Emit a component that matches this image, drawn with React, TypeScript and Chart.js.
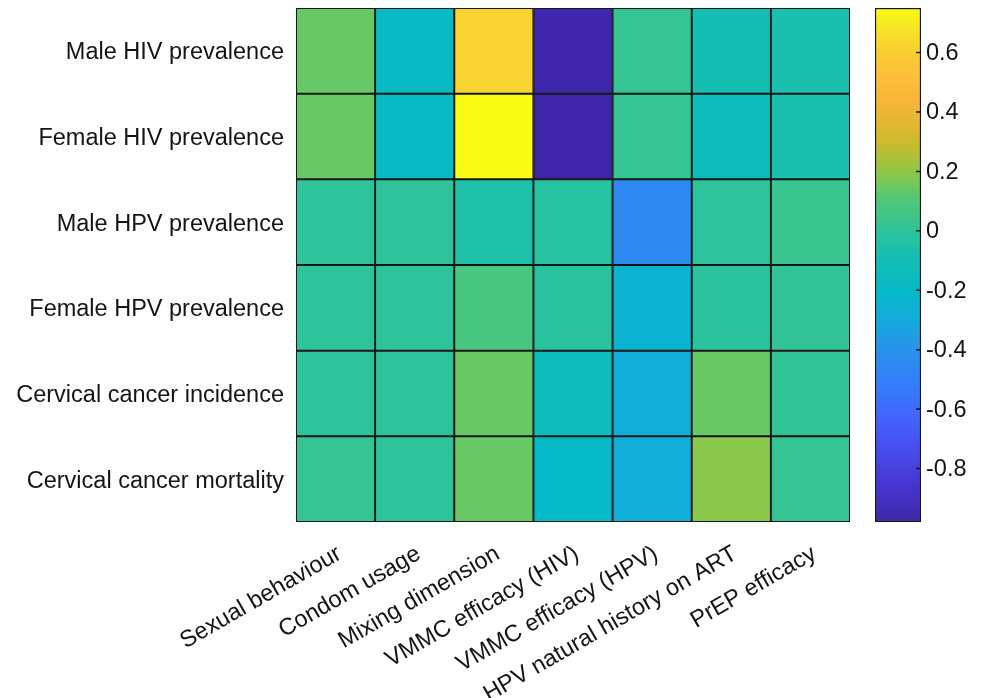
import React, { useEffect, useRef } from 'react';
import { Chart, registerables } from 'chart.js';

Chart.register(...registerables);

// ---- Data ----
const columnLabels = [
  'Sexual behaviour',
  'Condom usage',
  'Mixing dimension',
  'VMMC efficacy (HIV)',
  'VMMC efficacy (HPV)',
  'HPV natural history on ART',
  'PrEP efficacy',
];

const rowLabels = [
  'Male HIV prevalence',
  'Female HIV prevalence',
  'Male HPV prevalence',
  'Female HPV prevalence',
  'Cervical cancer incidence',
  'Cervical cancer mortality',
];

const maleHIV = [0.14, -0.18, 0.62, -0.97, 0.02, -0.09, -0.07];
const femaleHIV = [0.14, -0.18, 0.75, -0.98, 0.02, -0.14, -0.07];
const maleHPV = [0.0, 0.0, -0.06, -0.03, -0.44, 0.0, 0.03];
const femaleHPV = [0.0, 0.0, 0.08, -0.02, -0.25, -0.01, 0.01];
const cervicalIncidence = [0.0, 0.0, 0.14, -0.14, -0.28, 0.14, 0.01];
const cervicalMortality = [0.02, 0.0, 0.14, -0.2, -0.28, 0.19, 0.02];

const rowValues = [maleHIV, femaleHIV, maleHPV, femaleHPV, cervicalIncidence, cervicalMortality];

const colorbarTicks = [-0.8, -0.6, -0.4, -0.2, 0, 0.2, 0.4, 0.6];
const COLOR_MIN = -0.98;
const COLOR_MAX = 0.75;

// parula-like colormap anchors: [t, r, g, b]
const PARULA: [number, number, number, number][] = [
  [0.0, 62, 38, 168],
  [0.076, 70, 55, 210],
  [0.145, 72, 78, 238],
  [0.203, 65, 100, 250],
  [0.273, 50, 128, 250],
  [0.32, 45, 140, 240],
  [0.39, 20, 170, 220],
  [0.448, 5, 185, 200],
  [0.512, 20, 190, 180],
  [0.564, 45, 195, 155],
  [0.628, 80, 200, 120],
  [0.669, 130, 200, 80],
  [0.698, 160, 195, 60],
  [0.74, 205, 186, 42],
  [0.814, 248, 180, 58],
  [0.86, 252, 190, 58],
  [0.913, 250, 205, 50],
  [0.959, 245, 228, 38],
  [1.0, 249, 251, 20],
];

function cmap(v: number): string {
  let t = (v - COLOR_MIN) / (COLOR_MAX - COLOR_MIN);
  t = Math.max(0, Math.min(1, t));
  for (let i = 0; i < PARULA.length - 1; i++) {
    const a = PARULA[i];
    const b = PARULA[i + 1];
    if (t >= a[0] && t <= b[0]) {
      const f = (t - a[0]) / (b[0] - a[0] || 1);
      const r = Math.round(a[1] + (b[1] - a[1]) * f);
      const g = Math.round(a[2] + (b[2] - a[2]) * f);
      const bb = Math.round(a[3] + (b[3] - a[3]) * f);
      return `rgb(${r},${g},${bb})`;
    }
  }
  const l = PARULA[PARULA.length - 1];
  return `rgb(${l[1]},${l[2]},${l[3]})`;
}

function fmt(v: number): string {
  const s = (Math.round(v * 10) / 10).toString();
  return s === '-0' ? '0' : s;
}

export default function App() {
  const mainRef = useRef<HTMLCanvasElement>(null);
  const barRef = useRef<HTMLCanvasElement>(null);

  useEffect(() => {
    const font = { family: '"Liberation Sans", Arial, sans-serif', size: 23.5 };
    const textColor = '#141414';
    const lineColor = '#161616';

    const main = new Chart(mainRef.current as HTMLCanvasElement, {
      type: 'bar',
      data: {
        labels: columnLabels,
        datasets: rowValues.map((vals, i) => ({
          label: rowLabels[i],
          data: vals.map(() => 1),
          backgroundColor: vals.map(cmap),
          borderColor: lineColor,
          borderWidth: 1.3,
          borderSkipped: false,
          barPercentage: 1,
          categoryPercentage: 1,
        })),
      },
      options: {
        responsive: false,
        animation: false,
        layout: { padding: { top: 8, right: 132, left: 0, bottom: 0 } },
        plugins: { legend: { display: false }, tooltip: { enabled: false } },
        scales: {
          x: {
            stacked: true,
            grid: { display: false, drawTicks: false },
            border: { display: false },
            ticks: {
              minRotation: 30,
              maxRotation: 30,
              autoSkip: false,
              font,
              color: textColor,
              padding: 18,
              labelOffset: 4,
            },
            afterFit: (s: any) => {
              s.height = 176;
              s.paddingLeft = 0;
              s.paddingRight = 0;
            },
          },
          y: {
            stacked: true,
            min: 0,
            max: 6,
            reverse: true,
            grid: { display: false, drawTicks: false },
            border: { display: false },
            afterBuildTicks: (s: any) => {
              s.ticks = rowLabels.map((_, i) => ({ value: i + 0.5 }));
            },
            ticks: {
              callback: (v: any) => rowLabels[Math.floor(Number(v))],
              font,
              color: textColor,
              padding: 12,
              labelOffset: 2,
            },
            afterFit: (s: any) => {
              s.width = 296;
              s.paddingTop = 0;
              s.paddingBottom = 0;
            },
          },
        },
      } as any,
    });

    const innerTicks = {
      id: 'innerTicks',
      afterDatasetsDraw(chart: any) {
        const ys = chart.scales.y;
        const right = chart.chartArea.right;
        const ctx = chart.ctx;
        ctx.save();
        ctx.strokeStyle = lineColor;
        ctx.lineWidth = 1.5;
        ctx.beginPath();
        colorbarTicks.forEach((v) => {
          const y = ys.getPixelForValue(v);
          ctx.moveTo(right - 1, y);
          ctx.lineTo(right - 5, y);
        });
        ctx.stroke();
        ctx.restore();
      },
    };

    const cb = new Chart(barRef.current as HTMLCanvasElement, {
      type: 'bar',
      data: {
        labels: [''],
        datasets: [
          {
            data: [[COLOR_MIN, COLOR_MAX]] as any,
            backgroundColor: (c: any) => {
              const chart = c.chart;
              if (!chart.chartArea) return 'transparent';
              const ys = chart.scales.y;
              const g = chart.ctx.createLinearGradient(
                0,
                ys.getPixelForValue(COLOR_MIN),
                0,
                ys.getPixelForValue(COLOR_MAX)
              );
              PARULA.forEach(([t, r, gg, b]) => g.addColorStop(t, `rgb(${r},${gg},${b})`));
              return g;
            },
            borderColor: lineColor,
            borderWidth: 1.5,
            borderSkipped: false,
            barPercentage: 1,
            categoryPercentage: 1,
          },
        ],
      },
      options: {
        responsive: false,
        animation: false,
        layout: { padding: { left: 15, top: 8, bottom: 176, right: 0 } },
        plugins: { legend: { display: false }, tooltip: { enabled: false } },
        scales: {
          x: { display: false },
          y: {
            position: 'right',
            min: COLOR_MIN,
            max: COLOR_MAX,
            grid: { display: false, drawTicks: false },
            border: { display: false },
            afterBuildTicks: (s: any) => {
              s.ticks = colorbarTicks.map((v) => ({ value: v }));
            },
            ticks: {
              callback: (v: any) => fmt(Number(v)),
              font,
              color: textColor,
              padding: 5,
              labelOffset: 1,
            },
            afterFit: (s: any) => {
              s.width = 61;
              s.paddingTop = 0;
              s.paddingBottom = 0;
            },
          },
        },
      } as any,
      plugins: [innerTicks],
    });

    return () => {
      main.destroy();
      cb.destroy();
    };
  }, []);

  return (
    <div style={{ position: 'absolute', left: 0, top: 0, width: 982, height: 698, background: '#fff' }}>
      <canvas
        ref={mainRef}
        width={982}
        height={698}
        style={{ position: 'absolute', left: 0, top: 0, width: 982, height: 698 }}
      />
      <canvas
        ref={barRef}
        width={122}
        height={698}
        style={{ position: 'absolute', left: 860, top: 0, width: 122, height: 698 }}
      />
    </div>
  );
}
